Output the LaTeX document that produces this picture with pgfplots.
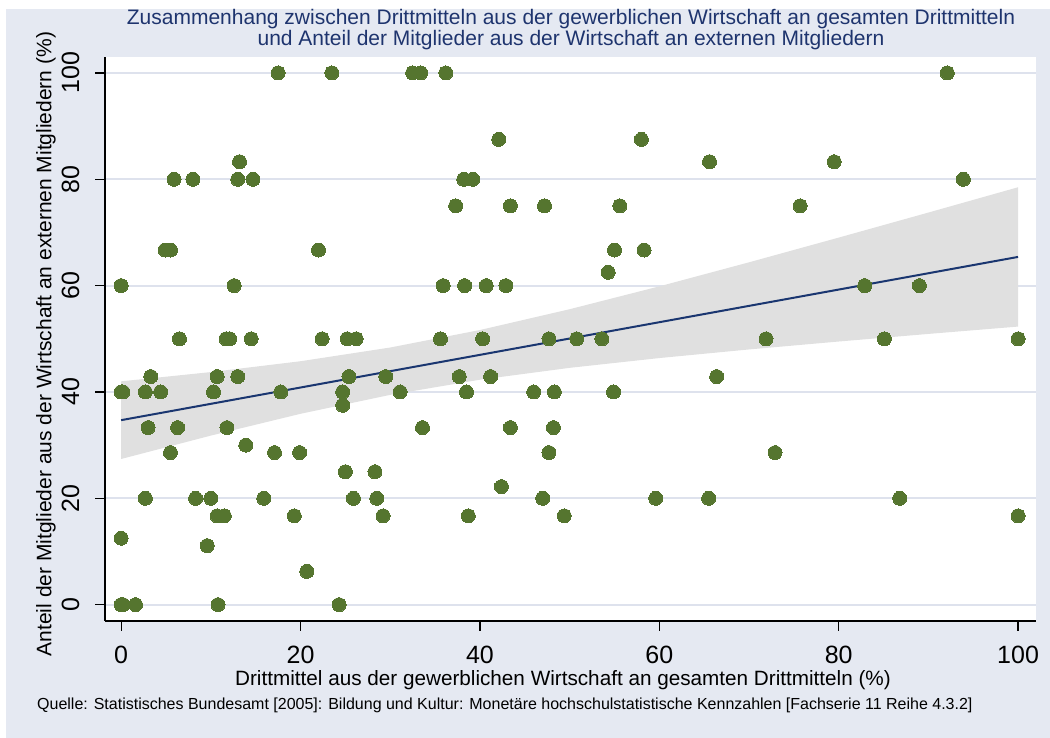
\documentclass[border=0pt]{standalone}
\usepackage{pgfplots}
\pgfplotsset{compat=1.18}
\usepackage{fontspec}
\setmainfont{Liberation Sans}
\definecolor{bgc}{RGB}{229,233,242}
\definecolor{gridc}{RGB}{222,226,237}
\definecolor{markc}{RGB}{85,117,47}
\definecolor{linec}{RGB}{26,54,112}
\definecolor{bandc}{RGB}{224,224,224}
\definecolor{titlec}{RGB}{30,52,110}
\begin{document}
\begin{tikzpicture}[x=1pt,y=1pt]
\path[use as bounding box] (0,0) rectangle (1050,738);
\fill[white] (0,0) rectangle (1050,738);
\fill[bgc] (6,0) rectangle (1050,729);
\begin{axis}[
  at={(105pt,117pt)}, anchor=south west,
  scale only axis, width=931pt, height=564pt,
  xmin=-1.8, xmax=102.0, ymin=-3.07, ymax=103.0,
  axis x line*=bottom, axis y line*=left,
  axis line style={black, line width=1.2pt},
  axis background/.style={fill=white},
  xtick={0,20,40,60,80,100}, ytick={0,20,40,60,80,100},
  tick align=outside, major tick length=10pt,
  tick style={black, line width=1.2pt},
  ymajorgrids, major grid style={gridc, line width=2.2pt},
  /pgf/number format/assume math mode=true,
  xticklabel style={font=\fontsize{25}{25}\selectfont, yshift=-12pt},
  yticklabel style={font=\fontsize{25}{25}\selectfont, rotate=90, anchor=south, yshift=12pt},
]
\addplot[fill=bandc, draw=none] coordinates {
 (0,42.0) (10,43.74) (20,45.78) (30,48.36) (40,51.65) (50,55.56) (60,59.86) (70,64.38) (80,69.03) (90,73.74) (100,78.5)
 (100,52.3) (90,50.92) (80,49.49) (70,48.0) (60,46.38) (50,44.54) (40,42.31) (30,39.46) (20,35.90) (10,31.80) (0,27.4)
} -- cycle;
\addplot[linec, line width=2pt] coordinates {(0,34.7) (100,65.4)};
\addplot[only marks, mark=*, mark size=7pt, mark options={fill=markc, draw=markc, line width=0pt}] coordinates {
 (17.5,100) (23.5,100) (32.5,100) (33.4,100) (36.2,100) (92.1,100)
 (42.1,87.5) (58.0,87.5)
 (13.2,83.3) (65.6,83.3) (79.5,83.3)
 (5.9,80) (8.0,80) (13.0,80) (14.7,80) (38.2,80) (39.2,80) (93.9,80)
 (37.3,75) (43.4,75) (47.2,75) (55.6,75) (75.7,75)
 (4.9,66.7) (5.5,66.7) (22.0,66.7) (55.0,66.7) (58.3,66.7)
 (54.3,62.5)
 (0.0,60) (12.6,60) (35.9,60) (38.3,60) (40.7,60) (42.9,60) (82.9,60) (89.0,60)
 (6.5,50) (11.7,50) (12.1,50) (14.5,50) (22.4,50) (25.2,50) (26.2,50) (35.6,50) (40.3,50) (47.7,50) (50.8,50) (53.6,50) (71.9,50) (85.1,50) (100,50)
 (3.3,42.9) (10.7,42.9) (13.0,42.9) (25.4,42.9) (29.5,42.9) (37.7,42.9) (41.2,42.9) (66.4,42.9)
 (0.0,40) (0.2,40) (2.7,40) (4.4,40) (10.3,40) (17.8,40) (24.7,40) (31.1,40) (38.5,40) (46.0,40) (48.3,40) (54.9,40)
 (24.7,37.5)
 (3.0,33.3) (6.3,33.3) (11.8,33.3) (33.6,33.3) (43.4,33.3) (48.2,33.3)
 (13.9,30)
 (5.5,28.6) (17.1,28.6) (19.9,28.6) (47.7,28.6) (72.9,28.6)
 (25.0,25) (28.3,25)
 (42.4,22.2)
 (2.7,20) (8.3,20) (10.0,20) (15.9,20) (25.9,20) (28.5,20) (47.0,20) (59.6,20) (65.5,20) (86.8,20)
 (10.7,16.7) (11.5,16.7) (19.3,16.7) (29.2,16.7) (38.7,16.7) (49.4,16.7) (100,16.7)
 (0,12.5) (9.6,11.1) (20.7,6.25)
 (0,0) (0.2,0) (1.6,0) (10.8,0) (24.3,0)
};
\end{axis}
\node[align=center, text=titlec, font=\fontsize{21}{21}\selectfont] at (571,708)
 {Zusammenhang zwischen Drittmitteln aus der gewerblichen Wirtschaft an gesamten Drittmitteln\\und Anteil der Mitglieder aus der Wirtschaft an externen Mitgliedern};
\node[font=\fontsize{20.7}{20.7}\selectfont] at (563,58)
 {Drittmittel aus der gewerblichen Wirtschaft an gesamten Drittmitteln (\%)};
\node[rotate=90, font=\fontsize{21}{21}\selectfont] at (46,394)
 {Anteil der Mitglieder aus der Wirtschaft an externen Mitgliedern (\%)};
\node[anchor=west, font=\fontsize{16}{16}\selectfont, inner sep=0pt] at (37,33)
 {Quelle: Statistisches Bundesamt [2005]: Bildung und Kultur: Monetäre hochschulstatistische Kennzahlen [Fachserie 11 Reihe 4.3.2]};
\end{tikzpicture}
\end{document}
